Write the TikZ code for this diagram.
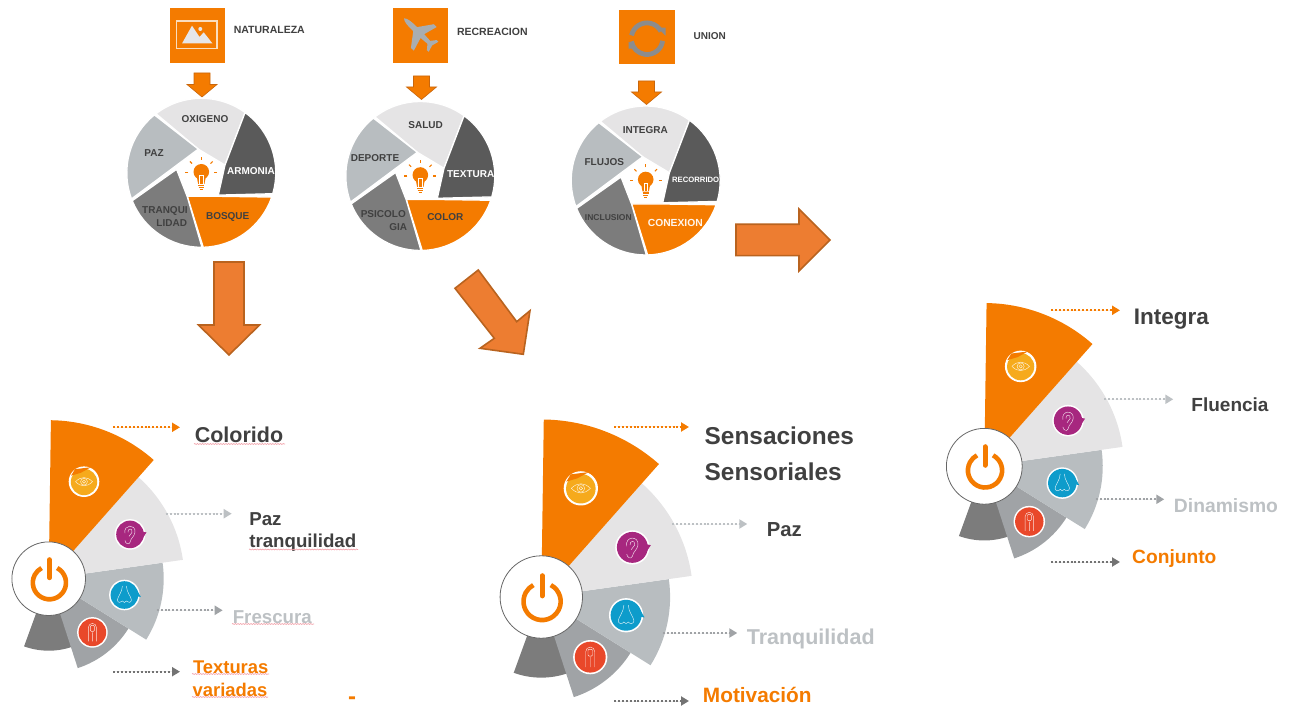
\documentclass[tikz,border=0pt]{standalone}
\usepackage{fontspec}
\setmainfont{Liberation Sans}
\usetikzlibrary{decorations.pathmorphing,arrows.meta}
\definecolor{org}{HTML}{F47B00}
\definecolor{bigarr}{HTML}{ED7D31}
\definecolor{bigedge}{HTML}{B9631F}
\definecolor{smalledge}{HTML}{C8660C}
\definecolor{segA}{HTML}{E5E4E5}
\definecolor{segB}{HTML}{B8BDC0}
\definecolor{segC}{HTML}{7C7C7C}
\definecolor{segD}{HTML}{5A5A5A}
\definecolor{segE}{HTML}{A0A3A6}
\definecolor{txt}{HTML}{404040}
\definecolor{pale}{HTML}{BDC1C4}
\definecolor{imgcol}{HTML}{E6E6E8}
\definecolor{framecol}{HTML}{FADDBE}
\definecolor{planecol}{HTML}{A9ADB0}
\definecolor{ringcol}{HTML}{8C8C8C}
\definecolor{eyecol}{HTML}{F6AA1C}
\definecolor{earcol}{HTML}{A7277F}
\definecolor{nosecol}{HTML}{0E9CCB}
\definecolor{fingercol}{HTML}{E9482A}
\definecolor{squigcol}{HTML}{F2A0A8}
\newcommand\fs[1]{\fontsize{#1}{#1}\selectfont\bfseries}
\tikzset{
  x=1pt,y=1pt,
  lab/.style={inner sep=0pt,outer sep=0pt,text=txt},
  pieseg/.style={draw=white,line width=1.3pt,line join=miter},
  bigarrow/.style={fill=bigarr,draw=bigedge,line width=1.6pt,line join=miter},
  smallarrow/.style={fill=org,draw=smalledge,line width=0.6pt},
  dotline/.style={line width=2pt,dash pattern=on 2pt off 1.9pt,-{Triangle[length=8pt,width=9pt]}},
  squig/.style={draw=squigcol,line width=0.6pt,decorate,decoration={snake,amplitude=0.5pt,segment length=2.6pt}},
  iconline/.style={draw=white,line width=0.45pt,opacity=0.85},
}
% pie at centre
\newcommand\thepie[2]{%
\begin{scope}[shift={(#1,#2)}]
  \path[pieseg,fill=segA] (127.5:74.5) arc[start angle=127.5,end angle=54,radius=74.5] -- (23.7,7.7) -- (-3,23.7) -- cycle;
  \path[pieseg,fill=segD] (54:74.5) arc[start angle=54,end angle=-16.3,radius=74.5] -- (17,-22.3) -- (23.7,7.7) -- cycle;
  \path[pieseg,fill=org] (-19:74.5) arc[start angle=-19,end angle=-88.5,radius=74.5] -- (-14,-23.5) -- (17,-23.5) -- cycle;
  \path[pieseg,fill=segC] (-89.5:74.5) arc[start angle=-89.5,end angle=-158,radius=74.5] -- (-24.7,3.5) -- (-14,-24) -- cycle;
  \path[pieseg,fill=segB] (-159.5:74.5) arc[start angle=200.5,end angle=129,radius=74.5] -- (-3,23.7) -- cycle;
  % bulb
  \foreach \a in {0,45,90,135,180} \draw[org,line width=1.1pt] (\a:13) -- (\a:16);
  \fill[org] (0,1) circle[radius=7.8];
  \fill[org] (-4.5,-4) -- (4.5,-4) -- (3.2,-11) -- (-3.2,-11) -- cycle;
  \draw[white,line width=0.7pt] (-1.6,-11) -- (-1.6,-2.5) -- (1.6,-2.5) -- (1.6,-11);
  \draw[org,line width=1.1pt] (-3,-12.5) -- (3,-12.5) (-2.6,-14.6) -- (2.6,-14.6) (-1.6,-16.6) -- (1.6,-16.6);
\end{scope}}
% small block arrow
\newcommand\smallarr[3]{% cx, top y, y where the head starts
\path[smallarrow] (#1-8,-#2) -- (#1+8,-#2) -- (#1+8,-#3) -- (#1+15,-#3) -- (#1,-#3-12.5) -- (#1-15,-#3) -- (#1-8,-#3) -- cycle;}
% fan at centre with scale
\newcommand\sect[4]{\fill[#1] (0,0) -- (#2:#4) arc[start angle=#2,end angle=#3,radius=#4] -- cycle;}
\newcommand\thefan[3]{%
\begin{scope}[shift={(#1,#2)},scale=#3]
  \sect{segC}{-71}{-110}{72}
  \sect{segE}{-32}{-72}{94}
  \sect{segB}{8}{-32}{115}
  \sect{segA}{48.5}{8}{135.5}
  \sect{org}{89.2}{48.5}{158.5}
  % eye
  \begin{scope}[shift={(35.3,97)}]
    \fill[white] (0,0) circle[radius=15.3];
    \fill[eyecol] (0,-0.3) circle[radius=13.2];
    \fill[org] (-13,6) -- (-9,12.5) -- (7,14.5) -- (-3,9) -- cycle;
    \draw[iconline] (-8.5,0) .. controls (-3,5.5) and (3,5.5) .. (8.5,0) .. controls (3,-5.5) and (-3,-5.5) .. (-8.5,0);
    \draw[iconline] (0,0) circle[radius=3.4] (0,0) circle[radius=1.6];
  \end{scope}
  % ear
  \begin{scope}[shift={(81.3,44.3)}]
    \fill[white] (0,0) circle[radius=15.3];
    \fill[earcol] (0,0) circle[radius=13.8];
    \fill[earcol] (12,-5) -- (16.5,2) -- (11,3) -- cycle;
    \draw[iconline] (-5,1) .. controls (-7,10) and (6,11) .. (5,2) .. controls (4,-3) and (1,-3) .. (0,-8) .. controls (-1,-11) and (-5,-9) .. (-5,-6);
    \draw[iconline] (-2,2) .. controls (-3,6) and (3,7) .. (2,2) .. controls (1,0) and (0,0) .. (-1,-2);
  \end{scope}
  % nose
  \begin{scope}[shift={(75.7,-16.3)}]
    \fill[white] (0,0) circle[radius=15.3];
    \fill[nosecol] (0,0) circle[radius=13.8];
    \fill[nosecol] (11,-1) -- (16.5,-2) -- (12,6) -- cycle;
    \draw[iconline] (-2,9) .. controls (-2,3) and (-7,-2) .. (-7,-5) .. controls (-7,-8) and (-3,-8) .. (-2,-6) .. controls (-1,-8) and (1,-8) .. (2,-6) .. controls (3,-8) and (7,-8) .. (7,-5) .. controls (7,-2) and (2,3) .. (2,9);
  \end{scope}
  % finger
  \begin{scope}[shift={(43.7,-53.7)}]
    \fill[white] (0,0) circle[radius=15.3];
    \fill[fingercol] (0,0) circle[radius=13.8];
    \draw[iconline] (-4,-9) -- (-4,5) arc[start angle=180,end angle=0,radius=4] -- (4,-9) (0,-9) -- (0,0);
    \draw[iconline,rounded corners=1pt] (-2,1) rectangle (2,7);
  \end{scope}
  % power disc
  \fill[white] (0,0) circle[radius=36.8];
  \draw[black!60,line width=0.8pt] (0,0) circle[radius=36.8];
  \draw[org,line width=4.6pt] (0.7,-4) ++(62:16.6) arc[start angle=62,end angle=-242,radius=16.6];
  \draw[org,line width=5pt,line cap=round] (0.7,19) -- (0.7,1);
\end{scope}}
\begin{document}
\begin{tikzpicture}
\useasboundingbox (0,0) rectangle (1291,-708);
% === top row: icons ===
\fill[org] (170,-8) rectangle (225,-63);
\draw[framecol,line width=1.3pt] (176.3,-21) rectangle (217,-48.3);
\fill[imgcol] (182,-43.5) -- (192,-25.7) -- (199.5,-37) -- (203.7,-32.3) -- (212.5,-43.5) -- cycle;
\fill[imgcol] (200.3,-29) circle[radius=2];
\fill[org] (393.3,-8.3) rectangle (448.3,-63.3);
\begin{scope}[shift={(419.5,-33.3)},rotate=46]
  \fill[planecol] (0,21.5) .. controls (2.4,19) and (2.8,15) .. (2.8,6) -- (16.5,-4) -- (16.5,-8) -- (2.6,-4) -- (2,-13) -- (7,-17) -- (7,-19.5) -- (0,-17.5) -- (-7,-19.5) -- (-7,-17) -- (-2,-13) -- (-2.6,-4) -- (-16.5,-8) -- (-16.5,-4) -- (-2.8,6) .. controls (-2.8,15) and (-2.4,19) .. (0,21.5) -- cycle;
\end{scope}
\fill[org] (619.3,-10) rectangle (675,-64.5);
\begin{scope}[shift={(647,-38.7)}]
  \draw[ringcol,line width=4.8pt] (168:15.8) arc[start angle=168,end angle=28,radius=15.8];
  \draw[ringcol,line width=4.8pt] (-8:15.8) arc[start angle=-8,end angle=-170,radius=15.8];
  \fill[ringcol] (18.5,3) -- (18.5,11) -- (10.5,11) -- cycle;
  \fill[ringcol] (-18.5,-3) -- (-18.5,-10) -- (-11,-10) -- cycle;
\end{scope}
\node[lab,font=\fs{10.5}] (tnat) at (269.3,-29.5) {NATURALEZA};
\node[lab,font=\fs{10.5}] (trec) at (492.3,-31.5) {RECREACION};
\node[lab,font=\fs{10}] (tuni) at (709.7,-35.7) {UNION};
\smallarr{202}{73}{84.5}
\smallarr{421.5}{76}{87}
\smallarr{646.5}{81}{92}
% === pies ===
\thepie{201.3}{-172.8}
\thepie{420.3}{-176}
\thepie{645.7}{-180.5}
\node[lab,font=\fs{10}] (p1a) at (205,-119) {OXIGENO};
\node[lab,font=\fs{10}] (p1b) at (154,-153) {PAZ};
\node[lab,font=\fs{10},text=white] (p1c) at (251,-170.7) {ARMONIA};
\node[lab,font=\fs{10}] (p1d) at (165,-211) {TRANQUI};
\node[lab,font=\fs{10}] (p1e) at (171.7,-223.5) {LIDAD};
\node[lab,font=\fs{10}] (p1f) at (227.7,-216.7) {BOSQUE};
\node[lab,font=\fs{10}] (p2a) at (425.7,-125.3) {SALUD};
\node[lab,font=\fs{10}] (p2b) at (375,-157.7) {DEPORTE};
\node[lab,font=\fs{10},text=white] (p2c) at (470.7,-174) {TEXTURA};
\node[lab,font=\fs{10}] (p2d) at (383.3,-214) {PSICOLO};
\node[lab,font=\fs{10}] (p2e) at (398.3,-226.7) {GIA};
\node[lab,font=\fs{10}] (p2f) at (445.3,-217.3) {COLOR};
\node[lab,font=\fs{10}] (p3a) at (645.3,-130.3) {INTEGRA};
\node[lab,font=\fs{10}] (p3b) at (604.3,-162) {FLUJOS};
\node[lab,font=\fs{7.7},text=white] (p3c) at (695.7,-179.7) {RECORRIDO};
\node[lab,font=\fs{8.5}] (p3d) at (608.3,-217.7) {INCLUSION};
\node[lab,font=\fs{10.3},text=white!92!orange] (p3e) at (675.3,-222.7) {CONEXION};
% === big arrows ===
\path[bigarrow] (214,-262) -- (244,-262) -- (244,-325) -- (259.5,-325) -- (229,-355) -- (198.5,-325) -- (214,-325) -- cycle;
\path[bigarrow] (455,-288.3) -- (478.3,-270) -- (516.7,-321.7) -- (530,-310.7) -- (523.3,-354.3) -- (480,-348.3) -- (494.3,-338.3) -- cycle;
\path[bigarrow] (736,-224.3) -- (799,-224.3) -- (799,-209) -- (830,-240) -- (799,-271) -- (799,-255.7) -- (736,-255.7) -- cycle;
% === fans ===
\thefan{48.7}{-578.7}{1}
\thefan{541.3}{-597}{1.12}
\thefan{984.3}{-466.3}{1.03}
% fan 1 labels
\node[lab,font=\fs{21.5}] (f1a) at (239,-435) {Colorido};
\node[lab,font=\fs{18.7},anchor=west] (f1b) at (249.3,-519) {Paz};
\node[lab,font=\fs{18.7},anchor=west] (f1c) at (249.3,-542.5) {tranquilidad};
\node[lab,font=\fs{18.7},text=pale] (f1d) at (272.3,-616.7) {Frescura};
\node[lab,font=\fs{18.4},text=org] (f1e) at (230.7,-667) {Texturas};
\node[lab,font=\fs{18.4},text=org] (f1f) at (230,-690) {variadas};
\node[lab,font=\fs{24},text=org] (f1g) at (352,-701) {-};
\draw[squig] (194,-444) -- (285,-444);
\draw[squig] (249,-549.5) -- (358,-549.5);
\draw[squig] (232,-624) -- (314,-624);
\draw[squig] (192,-674) -- (269,-674);
\draw[squig] (192,-697) -- (268,-697);
% fan 2 labels
\node[lab,font=\fs{24.4},anchor=west] (f2a) at (704.7,-436) {Sensaciones};
\node[lab,font=\fs{24.4},anchor=west] (f2b) at (704.7,-472) {Sensoriales};
\node[lab,font=\fs{20.3}] (f2c) at (784.3,-529.3) {Paz};
\node[lab,font=\fs{21.5},text=pale] (f2d) at (810.7,-639.3) {Tranquilidad};
\node[lab,font=\fs{20.8},text=org] (f2e) at (757.3,-695.3) {Motivación};
% fan 3 labels
\node[lab,font=\fs{22.5}] (f3a) at (1171.3,-319.5) {Integra};
\node[lab,font=\fs{19}] (f3b) at (1230,-404.3) {Fluencia};
\node[lab,font=\fs{19.3},text=pale] (f3c) at (1226,-505.7) {Dinamismo};
\node[lab,font=\fs{19.2},text=org] (f3d) at (1174.3,-558.5) {Conjunto};
% dotted arrows
\coordinate (a1s) at (113.3,-427.3); \coordinate (a1e) at (180,-427.3);
\coordinate (a2s) at (165.7,-513.7); \coordinate (a2e) at (231.7,-513.7);
\coordinate (a3s) at (156.7,-610.3); \coordinate (a3e) at (222.7,-610.3);
\coordinate (a4s) at (113.3,-671.7); \coordinate (a4e) at (180,-671.7);
\coordinate (b1s) at (614,-427); \coordinate (b1e) at (689,-427);
\coordinate (b2s) at (672.3,-524); \coordinate (b2e) at (747.3,-524);
\coordinate (b3s) at (662.7,-633); \coordinate (b3e) at (737.3,-633);
\coordinate (b4s) at (614,-701); \coordinate (b4e) at (689,-701);
\coordinate (c1s) at (1051,-310.3); \coordinate (c1e) at (1120,-310.3);
\coordinate (c2s) at (1104.3,-399.3); \coordinate (c2e) at (1173.3,-399.3);
\coordinate (c3s) at (1095.7,-499.3); \coordinate (c3e) at (1164.3,-499.3);
\coordinate (c4s) at (1051,-562); \coordinate (c4e) at (1120,-562);
\draw[dotline,draw=org,fill=org] (a1s) -- (a1e);
\draw[dotline,draw=pale,fill=pale] (a2s) -- (a2e);
\draw[dotline,draw=segE,fill=segE] (a3s) -- (a3e);
\draw[dotline,draw=black!55,fill=black!55] (a4s) -- (a4e);
\draw[dotline,draw=org,fill=org] (b1s) -- (b1e);
\draw[dotline,draw=pale,fill=pale] (b2s) -- (b2e);
\draw[dotline,draw=segE,fill=segE] (b3s) -- (b3e);
\draw[dotline,draw=black!55,fill=black!55] (b4s) -- (b4e);
\draw[dotline,draw=org,fill=org] (c1s) -- (c1e);
\draw[dotline,draw=pale,fill=pale] (c2s) -- (c2e);
\draw[dotline,draw=segE,fill=segE] (c3s) -- (c3e);
\draw[dotline,draw=black!55,fill=black!55] (c4s) -- (c4e);
\end{tikzpicture}
\end{document}
